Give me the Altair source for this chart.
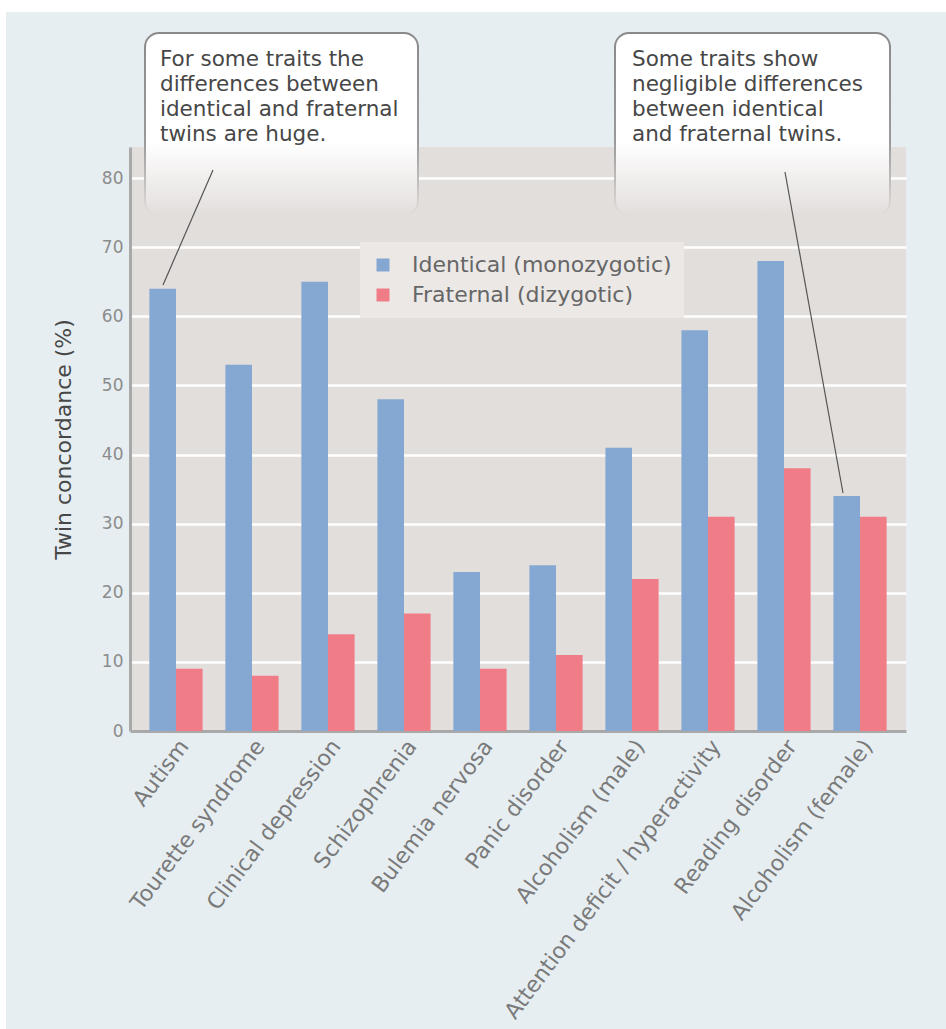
import altair as alt
import pandas as pd

categories = [
    "Autism", "Tourette syndrome", "Clinical depression", "Schizophrenia",
    "Bulemia nervosa", "Panic disorder", "Alcoholism (male)",
    "Attention deficit / hyperactivity", "Reading disorder", "Alcoholism (female)",
]
identical = [64, 53, 65, 48, 23, 24, 41, 58, 68, 34]
fraternal = [9, 8, 14, 17, 9, 11, 22, 31, 38, 31]
series = ["Identical (monozygotic)", "Fraternal (dizygotic)"]
series_colors = ["#84a8d2", "#f07c88"]
y_ticks = [0, 10, 20, 30, 40, 50, 60, 70, 80]
y_max = 84.5
y_title = "Twin concordance (%)"
note_left = ["For some traits the", "differences between", "identical and fraternal", "twins are huge."]
note_right = ["Some traits show", "negligible differences", "between identical", "and fraternal twins."]

rows = []
for c, a, b in zip(categories, identical, fraternal):
    rows.append({"trait": c, "twins": series[0], "value": a})
    rows.append({"trait": c, "twins": series[1], "value": b})
df = pd.DataFrame(rows)

FONT = "DejaVu Sans"
W, H = 776, 584
PLOT_BG = "#e2dedc"
one = pd.DataFrame({"k": [0]})

bars = alt.Chart(df).mark_bar().encode(
    x=alt.X(
        "trait:N", sort=categories,
        scale=alt.Scale(paddingInner=0.3, paddingOuter=0.255),
        axis=alt.Axis(
            title=None, labelAngle=307, labelAlign="right", labelBaseline="top",
            labelFontSize=22, labelColor="#7a7a7a", labelFont=FONT, ticks=False,
            domainColor="#a9a9a9", domainWidth=3, labelPadding=5, labelLimit=500,
        ),
    ),
    xOffset=alt.XOffset("twins:N", sort=series, scale=alt.Scale(paddingInner=0, paddingOuter=0)),
    y=alt.Y(
        "value:Q", scale=alt.Scale(domain=[0, y_max], nice=False),
        axis=alt.Axis(
            values=y_ticks, title=y_title, ticks=False, domainColor="#a9a9a9",
            domainWidth=3, gridColor="#ffffff", gridWidth=2.5, labelFontSize=17,
            labelColor="#8c8c8c", labelFont=FONT, labelPadding=7,
            titleFont=FONT, titleFontSize=22, titleFontWeight="normal",
            titleColor="#474747", titlePadding=26,
        ),
    ),
    color=alt.Color(
        "twins:N", sort=series,
        scale=alt.Scale(domain=series, range=series_colors),
        legend=alt.Legend(
            title=None, orient="none", legendX=230, legendY=95,
            fillColor="#ebe8e6", padding=12, symbolType="square", symbolSize=169,
            symbolStrokeWidth=0, symbolOpacity=1, labelFontSize=22, labelColor="#666666",
            labelFont=FONT, rowPadding=8, labelOffset=18, labelLimit=500,
        ),
    ),
)

top_strip = alt.Chart(one).mark_rect(color="#ffffff").encode(
    x=alt.value(-130), x2=alt.value(816), y=alt.value(-147), y2=alt.value(-135)
)
left_strip = alt.Chart(one).mark_rect(color="#ffffff").encode(
    x=alt.value(-130), x2=alt.value(-124), y=alt.value(-147), y2=alt.value(882)
)

fill_grad = alt.LinearGradient(
    gradient="linear",
    stops=[
        alt.GradientStop(offset=0, color="#ffffff"),
        alt.GradientStop(offset=0.6, color="#ffffff"),
        alt.GradientStop(offset=1, color=PLOT_BG),
    ],
    x1=0, x2=0, y1=0, y2=1,
)
stroke_grad = alt.LinearGradient(
    gradient="linear",
    stops=[
        alt.GradientStop(offset=0, color="#8a8a8a"),
        alt.GradientStop(offset=0.6, color="#9a9a9a"),
        alt.GradientStop(offset=1, color=PLOT_BG),
    ],
    x1=0, x2=0, y1=0, y2=1,
)


def callout(x0, x1, y0, y1):
    return alt.Chart(one).mark_rect(
        fill=fill_grad, stroke=stroke_grad, strokeWidth=2, cornerRadius=14
    ).encode(x=alt.value(x0), x2=alt.value(x1), y=alt.value(y0), y2=alt.value(y1))


box_left = callout(15, 288, -114, 68)
box_right = callout(485, 760, -114, 68)

text_left = alt.Chart(one).mark_text(
    text=note_left, align="left", baseline="top", fontSize=21.5, lineHeight=25,
    font=FONT, color="#474747",
).encode(x=alt.value(30), y=alt.value(-98))
text_right = alt.Chart(one).mark_text(
    text=note_right, align="left", baseline="top", fontSize=21.5, lineHeight=25,
    font=FONT, color="#474747",
).encode(x=alt.value(502), y=alt.value(-98))

line_left = alt.Chart(one).mark_rule(color="#555555", strokeWidth=1.2).encode(
    x=alt.value(83), y=alt.value(23), x2=alt.value(33), y2=alt.value(138)
)
line_right = alt.Chart(one).mark_rule(color="#555555", strokeWidth=1.2).encode(
    x=alt.value(655), y=alt.value(25), x2=alt.value(713), y2=alt.value(346)
)

chart = alt.layer(
    top_strip, left_strip, bars, box_left, box_right, text_left, text_right,
    line_left, line_right,
).properties(
    width=W, height=H,
    autosize=alt.AutoSizeParams(type="none"),
    padding={"left": 130, "top": 147, "right": 40, "bottom": 298},
    background="#e6eef2",
).configure_view(fill=PLOT_BG, stroke=None)

chart.save("out.html", embed_options={"renderer": "svg", "actions": False})
